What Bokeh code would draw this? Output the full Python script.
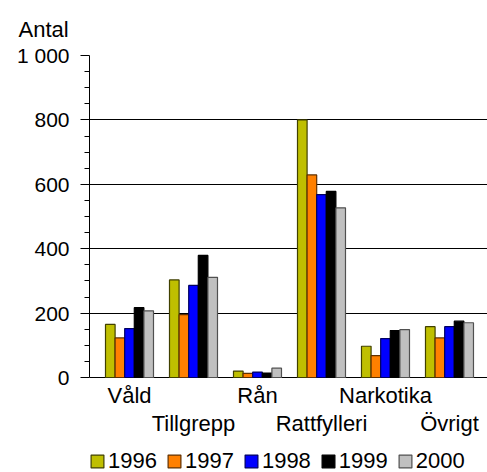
from bokeh.plotting import figure
from bokeh.models import (Range1d, FixedTicker, Legend, LegendItem, ColumnDataSource)
from bokeh.core.properties import value
from bokeh.transform import dodge
from bokeh.embed import file_html
from bokeh.resources import INLINE

categories = ["Våld", "Tillgrepp", "Rån", "Rattfylleri", "Narkotika", "Övrigt"]
years = ["1996", "1997", "1998", "1999", "2000"]
v1996 = [165, 303, 20, 800, 97, 158]
v1997 = [123, 195, 13, 629, 68, 123]
v1998 = [152, 286, 17, 568, 121, 158]
v1999 = [217, 379, 14, 578, 146, 175]
v2000 = [207, 311, 29, 527, 149, 170]
series = [v1996, v1997, v1998, v1999, v2000]
y_major = [0, 200, 400, 600, 800, 1000]
y_minor = [50, 100, 150, 250, 300, 350, 450, 500, 550, 650, 700, 750, 850, 900, 950]
fills = ["#BFBF00", "#FF8000", "#0000FF", "#000000", "#C0C0C0"]
edges = ["#404000", "#603000", "#000060", "#000000", "#505050"]

FONT = "Liberation Sans"
FS = "22px"
FS_TICK = "21px"

idx = list(range(len(categories)))
src = ColumnDataSource(dict(x=idx, **{("y" + y): s for y, s in zip(years, series)}))

# frame extends below zero so the category labels and legend can live inside it
p = figure(frame_width=398, frame_height=417, output_backend="svg", toolbar_location=None,
           x_range=Range1d(-0.625, 5.594), y_range=Range1d(-295, 1000),
           min_border_left=89, min_border_right=0, min_border_top=55, min_border_bottom=0,
           x_axis_location=None)
p.outline_line_color = None

renderers = []
offsets = [-0.3, -0.15, 0.0, 0.15, 0.3]
for y, off, fc, ec in zip(years, offsets, fills, edges):
    r = p.vbar(x=dodge("x", off), top="y" + y, width=0.15, bottom=0,
               source=src, fill_color=fc, line_color=ec, line_width=1.2)
    renderers.append(r)

ticker = FixedTicker(ticks=y_major, minor_ticks=y_minor)
p.xgrid.grid_line_color = None
p.ygrid.ticker = ticker
p.ygrid.grid_line_color = "#000000"
p.ygrid.grid_line_width = 1

yax = p.yaxis[0]
yax.ticker = ticker
yax.bounds = (0, 1000)
yax.major_label_overrides = {1000: "1 000"}
yax.major_tick_out = 9
yax.major_tick_in = 0
yax.minor_tick_out = 5
yax.minor_tick_in = 0
yax.axis_line_color = "#000000"
yax.major_label_text_font = FONT
yax.major_label_text_font_size = FS_TICK
yax.major_label_text_color = "#000000"
yax.major_label_standoff = 11

# staggered category labels (two rows)
lab_src = ColumnDataSource(dict(x=idx, y=[0] * len(idx), label=categories,
                                yoff=[18 if i % 2 == 0 else 46 for i in idx]))
p.text(x="x", y="y", text="label", y_offset="yoff", source=lab_src,
       text_font=value(FONT), text_font_size=value(FS), text_color="#000000",
       text_align="center", text_baseline="middle")

legend = Legend(items=[LegendItem(label=y, renderers=[r]) for y, r in zip(years, renderers)],
                orientation="horizontal", location=(0, -2),
                label_text_font=FONT, label_text_font_size=FS, label_text_color="#000000",
                glyph_width=16, glyph_height=16, label_standoff=3, spacing=9,
                padding=0, margin=0, border_line_color=None, background_fill_alpha=0,
                label_height=16)
p.add_layout(legend, "center")

p.title.text = "Antal"
p.title.align = "left"
p.title.offset = -71
p.title.text_font = FONT
p.title.text_font_size = FS
p.title.text_font_style = "normal"
p.title.text_color = "#000000"
p.title.standoff = 28

open("out.html", "w").write(file_html(p, INLINE))
